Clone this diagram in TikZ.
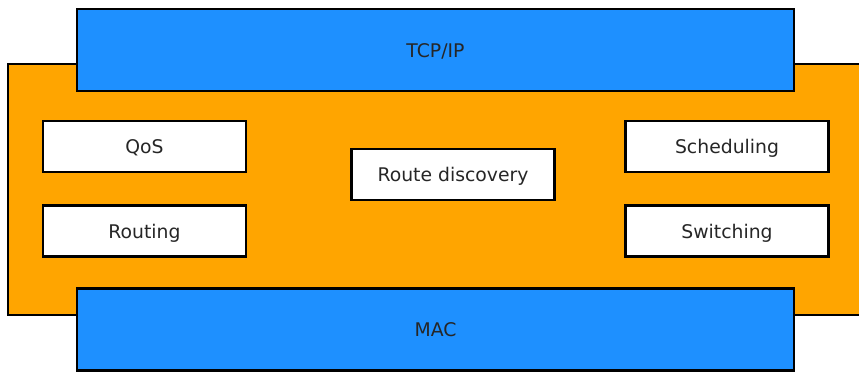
\documentclass[tikz,border=0pt]{standalone}
\usepackage{fontspec}
\setmainfont{DejaVu Sans}
\usetikzlibrary{positioning}

\definecolor{layerblue}{HTML}{1E90FF}
\definecolor{layerorange}{HTML}{FFA500}

\tikzset{
  layer/.style={draw, line width=2.75pt, fill=layerblue, minimum width=717pt, minimum height=82pt, text height=17pt, text depth=3pt, font=\fontsize{18.8}{20}\selectfont},
  block/.style={draw, line width=2.75pt, fill=white, minimum width=203pt, minimum height=51pt, text height=17pt, text depth=3pt, font=\fontsize{18.8}{20}\selectfont},
}

\begin{document}
\begin{tikzpicture}[x=1pt, y=-1pt, text=black!85]
      \useasboundingbox (0,0) rectangle (859,372);
      \clip (0,0) rectangle (859,372);

      % middle layer
      \draw[line width=2.75pt, fill=layerorange] (8,64) rectangle (880,315);

      \node[layer] (tcp) at (435.5,50) {TCP/IP};
      \node[layer] (mac) at (435.5,329.5) {MAC};

      \node[block] (qos) at (144.5,146.5) {QoS};
      \node[block, below=31pt of qos] (routing) {Routing};
      \node[block] (discovery) at (453,174.5) {Route discovery};
      \node[block] (sched) at (727,146.5) {Scheduling};
      \node[block, below=31pt of sched] (switching) {Switching};
    \end{tikzpicture}
\end{document}
